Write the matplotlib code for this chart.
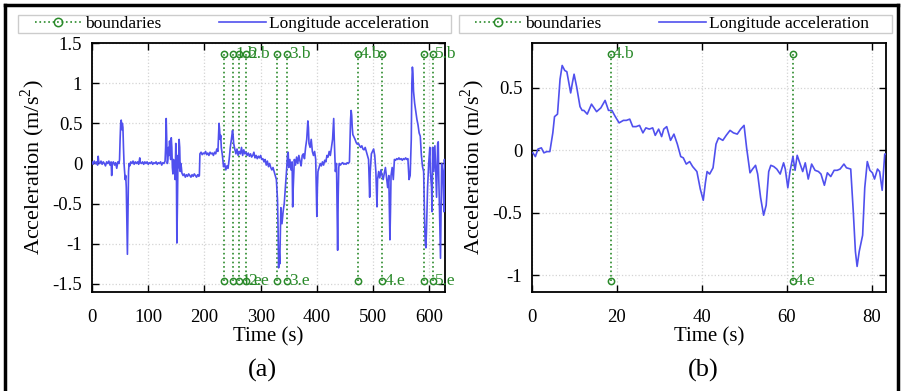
import matplotlib
matplotlib.use("Agg")
import matplotlib.pyplot as plt
from matplotlib.lines import Line2D
from matplotlib.patches import Rectangle

plt.rcParams['font.family'] = ['Liberation Serif', 'DejaVu Serif']
plt.rcParams['mathtext.fontset'] = 'custom'
plt.rcParams['mathtext.rm'] = 'Liberation Serif'

# === Data: (a) whole trip ===
t_a = [0, 2, 4, 6, 8, 10, 11, 12, 14, 16, 18, 20, 22, 24, 26, 28, 30, 32, 34, 35, 36, 38, 40, 42, 44, 46, 48, 49,
       50, 51, 52, 53, 54, 55, 56, 57, 58, 59, 60, 61, 62, 63, 64, 65, 66, 67,
       69, 71, 73, 75, 77, 79, 81, 83, 85, 86, 88, 90, 92, 94, 96, 98, 100, 102, 104, 106, 108, 110, 112, 114,
       116, 118, 120, 122, 124, 126, 128, 130,
       131, 132, 133, 134, 135, 136, 137, 138, 139, 140, 141, 142, 143, 144, 145, 146, 147, 148, 149, 150,
       151, 152, 153, 154, 155, 156, 157, 158, 159, 160,
       162, 164, 166, 168, 170, 172, 174, 176, 178, 180, 182, 184, 186, 188, 190, 191,
       192, 194, 196, 198, 200, 202, 204, 206, 208, 210, 212, 214, 216, 218, 220, 222, 224, 226, 227, 228,
       229, 230, 232, 234, 236, 238, 240, 242, 244, 246, 248, 250, 251, 252, 254, 256, 258, 260, 262, 264,
       266, 268, 270, 272, 274, 276, 278, 280, 282, 284, 286, 288, 290, 292, 294, 296, 298, 300, 302, 304,
       306, 308, 310, 312, 314, 316, 318, 320, 322, 324, 326, 328, 330, 331, 332, 333, 334, 335, 336, 338,
       340, 342, 344, 346, 348, 349, 350, 352, 354, 356, 357, 358, 360, 362, 364, 366, 368, 370, 372, 374,
       376, 378, 380, 382, 384, 385, 386, 388, 390, 392, 394, 396, 398, 400, 401, 402, 404, 406, 408, 410,
       412, 414, 416, 418, 420, 422, 424, 426, 428, 430, 431, 433, 435, 437, 438, 439, 440, 442, 444, 446,
       448, 450, 452, 454, 456, 458, 459, 460, 461, 462, 463, 464, 466, 468, 470, 472, 474, 476, 478, 480,
       482, 484, 486, 488, 490, 492, 494, 495, 497, 499, 501, 503, 505, 507, 508, 510, 512, 514, 516, 518,
       520, 522, 524, 526, 528, 530, 531, 532, 534, 536, 538, 540, 542, 544, 546, 548, 550, 552, 554, 556,
       558, 560, 562, 564, 566, 568, 569, 570, 571, 572, 574, 576, 578, 580, 582, 584, 586, 588, 590, 592,
       593, 594, 595, 597, 599, 601, 602, 604, 605, 606, 608, 610, 612, 613, 615, 616, 617, 618, 620, 621,
       622, 624, 626, 627, 628]
acc_a = [0.02, -0.01, 0.03, 0.0, 0.02, -0.02, 0.09, 0.02, 0.0, 0.03, -0.01, 0.02, 0.0, -0.03, 0.02, 0.0, 0.03, -0.02, 0.02, -0.15, 0.0, 0.02, -0.02, 0.01, -0.06, 0.02, 0.0, 0.05,
         0.3, 0.5, 0.54, 0.42, 0.5, 0.45, 0.2, 0.0, -0.1, -0.2, -0.15, -0.3, -0.7, -1.13, -0.6, -0.1, 0.0, -0.03,
         0.02, 0.0, 0.03, -0.01, 0.02, 0.0, 0.02, -0.01, 0.07, 0.01, 0.0, 0.02, -0.01, 0.02, 0.0, 0.02, -0.01, 0.01, 0.0, 0.02, -0.01, 0.01, 0.0, 0.02,
         -0.01, 0.01, 0.0, 0.02, -0.02, 0.01, 0.0, 0.03,
         0.2, 0.56, 0.3, 0.0, 0.05, 0.2, 0.1, 0.28, 0.15, 0.05, 0.32, 0.2, -0.05, -0.13, 0.05, -0.1, 0.0, -0.2, 0.25, 0.1,
         -0.99, -0.5, 0.1, -0.05, 0.3, 0.2, -0.1, 0.0, -0.05, -0.12,
         -0.15, -0.13, -0.17, -0.14, -0.16, -0.13, -0.15, -0.17, -0.14, -0.16, -0.13, -0.15, -0.17, -0.14, -0.16, -0.15,
         0.12, 0.14, 0.11, 0.13, 0.12, 0.15, 0.11, 0.13, 0.1, 0.14, 0.12, 0.13, 0.1, 0.14, 0.12, 0.18, 0.15, 0.5, 0.42, 0.3,
         0.35, 0.2, 0.1, -0.04, 0.0, -0.08, -0.03, -0.06, 0.05, 0.2, 0.3, 0.41, 0.35, 0.25, 0.18, 0.12, 0.18, 0.1, 0.15, 0.12,
         0.2, 0.1, 0.17, 0.12, 0.14, 0.1, 0.13, 0.09, 0.12, 0.08, 0.1, 0.14, 0.07, 0.1, 0.06, 0.09, 0.07, 0.1, 0.05, 0.06,
         0.02, 0.05, -0.02, 0.03, -0.04, 0.0, -0.05, -0.08, -0.05, -0.1, -0.15, -0.2, -0.45, -0.8, -1.3, -1.1, -1.25, -0.9, -0.55, -0.75,
         -0.6, -0.5, -0.3, -0.1, 0.12, 0.14, -0.05, 0.05, -0.08, 0.02, -0.54, -0.3, 0.05, -0.02, 0.08, 0.0, 0.1, 0.03, -0.03, 0.1,
         0.12, 0.06, 0.2, 0.3, 0.53, 0.45, 0.25, 0.2, 0.3, 0.15, 0.1, 0.15, 0.05, -0.66, -0.3, -0.1, -0.05, 0.0, -0.03, 0.02,
         -0.02, 0.04, 0.02, 0.1, 0.08, 0.15, 0.1, 0.2, 0.3, 0.56, 0.3, -0.1, 0.0, -1.08, -0.4, -0.05, 0.0, -0.02, 0.0, 0.01,
         -0.01, 0.0, -0.01, 0.01, 0.0, 0.02, 0.3, 0.55, 0.66, 0.6, 0.45, 0.36, 0.33, 0.3, 0.26, 0.24, 0.25, 0.22, 0.2, 0.22,
         0.18, 0.17, 0.2, 0.15, 0.1, 0.05, -0.42, -0.1, 0.12, 0.15, 0.18, 0.1, -0.1, -0.54, -0.2, -0.1, -0.18, -0.08, -0.15, -0.2,
         -0.12, -0.05, -0.18, -0.3, -0.15, -0.95, -0.6, -0.15, -0.05, -0.2, 0.05, 0.04, 0.06, 0.05, 0.07, 0.05, 0.06, 0.04, 0.06, 0.05,
         0.07, 0.05, 0.06, -0.2, -0.15, 0.3, 1.0, 1.2, 1.12, 0.9, 0.75, 0.65, 0.55, 0.48, 0.38, 0.34, 0.1, -0.04, -0.1, -0.8,
         -1.0, -1.05, -0.85, -0.3, 0.0, 0.2, -0.1, -0.3, -0.6, 0.2, -0.1, 0.22, -0.2, -0.42, 0.25, 0.27, -0.2, -0.5, -1.18, -0.6,
         0.0, -0.1, -0.6, 0.05, -0.05]

# boundary lines (a)
bnd_a = [235, 251, 262, 274, 329, 347, 473, 516, 591, 607]
top_lab_a = ['', '1.b', '', '2.b', '', '3.b', '4.b', '', '', '5.b']
bot_lab_a = ['', '', '1.e', '2.e', '', '3.e', '', '4.e', '', '5.e']

# === Data: (b) segment 4 ===
t_b = [0.2, 0.8, 1.4, 2.2, 2.8, 3.5, 4.2, 4.9, 5.3, 6.0, 6.6, 7.1, 7.7, 8.2, 9.1, 9.5, 9.9, 10.5, 11.3, 11.8,
       12.2, 13.0, 14.0, 14.6, 15.2, 16.2, 17.2, 18.0, 18.8, 19.6, 20.5, 21.5, 22.2, 23.0, 23.7, 24.5, 25.3, 26.1, 26.8, 27.6,
       28.4, 29.0, 29.8, 30.5, 31.0, 31.7, 32.6, 33.4, 34.2, 35.0, 35.6, 36.3, 37.1, 37.8, 38.8, 39.6, 40.3, 40.8, 41.2, 41.8,
       42.6, 43.3, 43.9, 44.9, 45.7, 46.6, 47.4, 48.3, 49.1, 49.9, 50.5, 51.3, 51.9, 52.6, 53.1, 53.8, 54.5, 55.1, 55.7, 56.2,
       56.9, 57.6, 58.4, 59.2, 59.6, 60.2, 60.7, 61.4, 61.9, 62.4, 63.1, 63.7, 64.3, 65.0, 65.8, 66.6, 67.4, 68.0, 68.8, 69.5,
       70.3, 71.1, 71.8, 72.5, 73.4, 74.0, 75.0, 75.6, 76.1, 76.5, 77.0, 77.8, 78.3, 78.9, 79.5, 80.1, 80.6, 81.3, 81.8, 82.4,
       83.0, 83.3]
acc_b = [-0.02, -0.05, 0.01, 0.02, -0.02, -0.01, -0.01, 0.14, 0.27, 0.29, 0.57, 0.68, 0.64, 0.63, 0.46, 0.54, 0.61, 0.51, 0.35, 0.32,
         0.32, 0.29, 0.37, 0.34, 0.31, 0.34, 0.40, 0.32, 0.32, 0.27, 0.22, 0.24, 0.24, 0.25, 0.19, 0.19, 0.20, 0.14, 0.18, 0.17,
         0.18, 0.12, 0.17, 0.11, 0.17, 0.19, 0.08, 0.13, 0.05, -0.05, -0.06, -0.11, -0.09, -0.13, -0.17, -0.31, -0.40, -0.26, -0.17, -0.19,
         -0.14, 0.05, 0.10, 0.08, 0.12, 0.16, 0.14, 0.13, 0.17, 0.20, 0.02, -0.18, -0.15, -0.12, -0.19, -0.38, -0.52, -0.44, -0.17, -0.12,
         -0.13, -0.15, -0.19, -0.10, -0.15, -0.30, -0.17, -0.05, -0.16, -0.04, -0.11, -0.17, -0.10, -0.23, -0.11, -0.16, -0.17, -0.19, -0.28, -0.18,
         -0.21, -0.16, -0.16, -0.15, -0.11, -0.14, -0.15, -0.49, -0.81, -0.93, -0.81, -0.68, -0.30, -0.09, -0.16, -0.18, -0.23, -0.15, -0.17, -0.32,
         -0.03, -0.03]

bnd_b = [18.5, 61.3]
top_lab_b = ['4.b', '']
bot_lab_b = ['', '4.e']

BLUE = '#5050ee'
GREEN = '#2a8a2a'
W, H = 904, 391

fig = plt.figure(figsize=(9.04, 3.91), dpi=100)
ax1 = fig.add_axes([92 / W, 1 - 292 / H, 353 / W, 249 / H])
ax2 = fig.add_axes([532 / W, 1 - 292 / H, 354 / W, 249 / H])


def draw_panel(ax, t, acc, bnd, top_lab, bot_lab, y_top, y_bot):
    for x, lt, lb in zip(bnd, top_lab, bot_lab):
        ax.plot([x, x], [y_bot, y_top], ':', color=GREEN, lw=1.2,
                marker='o', ms=4.5, mfc='none', mec=GREEN, mew=1.1, zorder=2)
        if lt:
            ax.annotate(lt, (x, y_top), xytext=(1.5, 0), textcoords='offset points',
                        va='center', ha='left', color=GREEN, fontsize=12.5, zorder=3)
        if lb:
            ax.annotate(lb, (x, y_bot), xytext=(1.5, 0), textcoords='offset points',
                        va='center', ha='left', color=GREEN, fontsize=12.5, zorder=3)
    ax.plot(t, acc, color=BLUE, lw=1.2, zorder=4)
    ax.grid(True, color='#d4d4d4', linestyle=':', linewidth=0.9)
    ax.set_axisbelow(True)
    ax.tick_params(direction='in', top=True, right=True, length=5, width=1,
                   labelsize=13.5)
    ax.tick_params(axis='x', pad=12)
    ax.tick_params(axis='y', pad=7)
    for s in ax.spines.values():
        s.set_linewidth(1.3)
    ax.set_xlabel('Time (s)', fontsize=15, labelpad=1)
    ax.set_ylabel('Acceleration (m/s$^2$)', fontsize=16)
    ax.yaxis.set_label_coords(-0.127, 0.5)


draw_panel(ax1, t_a, acc_a, bnd_a, top_lab_a, bot_lab_a, 1.36, -1.46)
ax1.set_xlim(0, 628)
ax1.set_ylim(-1.6, 1.5)
ax1.set_xticks([0, 100, 200, 300, 400, 500, 600])
ax1.set_yticks([-1.5, -1, -0.5, 0, 0.5, 1, 1.5])
ax1.set_yticklabels(['-1.5', '-1', '-0.5', '0', '0.5', '1', '1.5'])

draw_panel(ax2, t_b, acc_b, bnd_b, top_lab_b, bot_lab_b, 0.77, -1.05)
ax2.set_xlim(0, 83.3)
ax2.set_ylim(-1.135, 0.86)
ax2.set_xticks([0, 20, 40, 60, 80])
ax2.set_yticks([-1, -0.5, 0, 0.5])
ax2.set_yticklabels(['-1', '-0.5', '0', '0.5'])

# === Legends (frame drawn separately) ===
handles = [Line2D([], [], ls=':', color=GREEN, lw=1.2, marker='o', ms=6, mfc='none', mew=1.1),
           Line2D([], [], color=BLUE, lw=1.2)]
labels = ['boundaries', 'Longitude acceleration']
for bx0, bx1, hx in [(18, 451, 35), (459, 892, 475)]:
    fig.patches.append(Rectangle((bx0 / W, 1 - 33 / H), (bx1 - bx0) / W, 18 / H,
                                 transform=fig.transFigure, fill=False,
                                 edgecolor='#cccccc', lw=1.0))
    fig.legend(handles, labels, loc='center left', ncol=2, frameon=False,
               bbox_to_anchor=(hx / W, 1 - 24 / H), fontsize=12.5,
               handlelength=2.7, handletextpad=0.2, columnspacing=3.3,
               borderpad=0, borderaxespad=0)

fig.text(262 / W, 1 - 370 / H, '(a)', ha='center', va='center', fontsize=19)
fig.text(703 / W, 1 - 370 / H, '(b)', ha='center', va='center', fontsize=19)

# outer frame
fig.add_artist(Line2D([5 / W, 5 / W], [0, 1 - 5 / H], color='black', lw=2.5))
fig.add_artist(Line2D([5 / W, 898 / W], [1 - 5 / H, 1 - 5 / H], color='black', lw=2.5))
fig.add_artist(Line2D([898 / W, 898 / W], [0, 1 - 5 / H], color='black', lw=2.5))

fig.savefig('out.png', dpi=100)
